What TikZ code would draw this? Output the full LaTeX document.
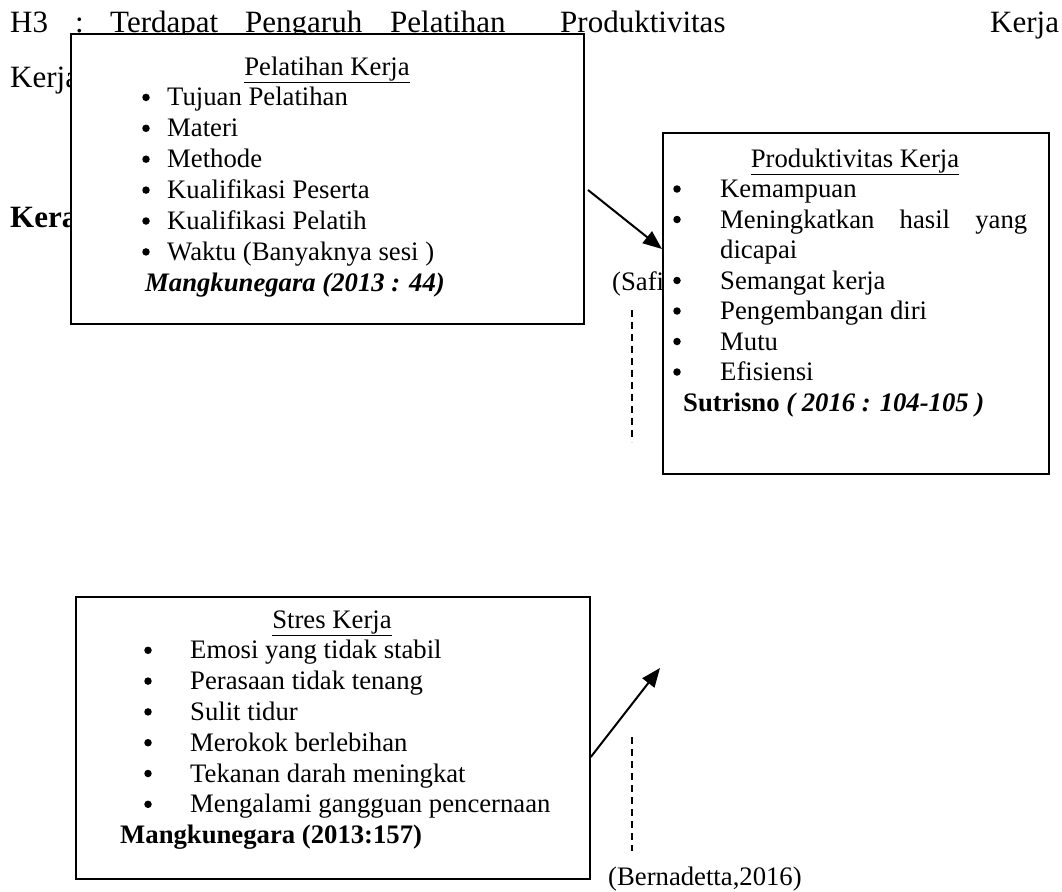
\documentclass[tikz,border=0pt]{standalone}
\usepackage{fontspec}
\setmainfont{Liberation Serif}
\usetikzlibrary{positioning}
\usetikzlibrary{calc}
\usetikzlibrary{arrows.meta}

\begin{document}
\begin{tikzpicture}[
        x=1pt, y=-1pt,
        word/.style={
            anchor=base west,
            inner sep=0pt,
            font=\fontsize{31}{37}\selectfont,
        },
        listbox/.style={
            draw,
            fill=white,
            line width=1.8pt,
            anchor=north west,
            inner sep=0pt,
        },
        entry/.style={
            anchor=base west,
            inner sep=0pt,
            font=\fontsize{26.7}{31}\selectfont,
        },
        heading/.style={
            entry,
            anchor=base,
        },
        bullet/.style={
            circle,
            fill,
            inner sep=0pt,
            minimum size=7.5pt,
        },
        transition/.style={
            -{Triangle[length=19pt, width=15pt]},
            line width=2pt,
        },
        guide/.style={
            dash pattern=on 7pt off 5pt,
            line width=1.6pt,
        },
    ]
    \useasboundingbox (0,0) rectangle (1062,891);

    % Page text behind the boxes.
    \node[word] (h3) at (10,33) {H3};
    \node[word] (colon) at (75,33) {:};
    \node[word] (w1) at (110,33) {Terdapat};
    \node[word] (w2) at (245,33) {Pengaruh};
    \node[word] (w3) at (390,33) {Pelatihan};
    \node[word] (w4) at (560,33) {Produktivitas};
    \node[word] (w5) at (990,33) {Kerja};

    \node[word] (kerja) at (10,88) {Kerja};
    \node[word, font=\fontsize{31}{37}\selectfont\bfseries] (kera) at (10,227) {Kera};
    \node[entry] (safi) at (612,290) {(Safi};
    \node[entry] (bern) at (608,885) {(Bernadetta,2016)};

    % Dashed guides.
    \coordinate (g1) at (632,310);
    \coordinate[below=132pt of g1] (g1e);
    \coordinate (g2) at (632,737);
    \coordinate[below=114pt of g2] (g2e);

    \draw[guide] (g1) to (g1e);
    \draw[guide] (g2) to (g2e);

    % Boxes.
    \node[listbox, minimum width=513pt, minimum height=290pt] (pelatihan) at (70,33) {};
    \node[listbox, minimum width=386pt, minimum height=341pt] (produktivitas) at (662,132) {};
    \node[listbox, minimum width=514pt, minimum height=282pt] (stres) at (75,596) {};

    % Pelatihan Kerja.
    \node[heading] (pt0) at (327,75) {\underline{Pelatihan Kerja}};
    \foreach \txt [count=\i] in {{Tujuan Pelatihan}, Materi, Methode,
            {Kualifikasi Peserta}, {Kualifikasi Pelatih}, {Waktu (Banyaknya sesi )}} {
        \node[bullet] (pb\i) at (146,66.5+\i*30.9) {};
        \node[entry] (pt\i) at (167,75+\i*30.9) {\txt};
    }
    \node[entry] (pref) at (145,291.3) {\textbf{\textit{Mangkunegara (2013 : 44)}}};

    % Produktivitas Kerja.
    \node[heading] (qt0) at (855,167) {\underline{Produktivitas Kerja}};
    \foreach \txt/\r in {Kemampuan/1, {Semangat kerja}/4, {Pengembangan diri}/5, Mutu/6, Efisiensi/7} {
        \node[bullet] (qb\r) at (677,158.5+\r*30.5) {};
        \node[entry] (qt\r) at (720,167+\r*30.5) {\txt};
    }
    \node[bullet] (qb2) at (677,219.5) {};
    \node[entry] (qt2) at (720,228) {\makebox[307pt][s]{Meningkatkan hasil yang}};
    \node[entry] (qt3) at (720,258.5) {dicapai};
    \node[entry] (qref) at (683,411) {\textbf{Sutrisno \textit{( 2016 : 104-105 )}}};

    % Stres Kerja.
    \node[heading] (st0) at (332,628) {\underline{Stres Kerja}};
    \foreach \txt [count=\i] in {{Emosi yang tidak stabil}, {Perasaan tidak tenang}, {Sulit tidur},
            {Merokok berlebihan}, {Tekanan darah meningkat}, {Mengalami gangguan pencernaan}} {
        \node[bullet] (sb\i) at (148,619.5+\i*30.8) {};
        \node[entry] (st\i) at (190,628+\i*30.8) {\txt};
    }
    \node[entry] (sref) at (120,843.6) {\textbf{Mangkunegara (2013:157)}};

    % Arrows.
    \coordinate (a1) at (588,190);
    \coordinate (a1e) at ($(produktivitas.north west)+(0,117)$);
    \coordinate (a2) at ($(stres.north east)+(0,161)$);
    \coordinate (a2e) at (660,668);

    \draw[transition] (a1) -- (a1e);
    \draw[transition] (a2) -- (a2e);

\end{tikzpicture}
\end{document}
